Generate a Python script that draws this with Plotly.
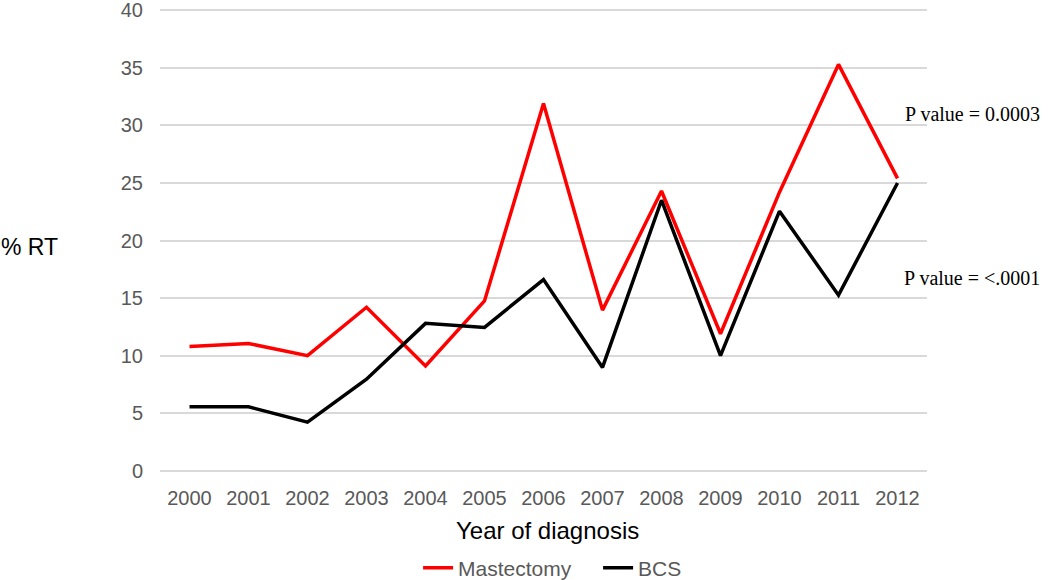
import plotly.graph_objs as go

years = [str(y) for y in range(2000, 2013)]
mastectomy = [10.8, 11.05, 10.0, 14.2, 9.1, 14.75, 31.9, 13.95, 24.3, 11.9, 24.2, 35.3, 25.4]
bcs = [5.55, 5.55, 4.22, 7.95, 12.8, 12.45, 16.6, 8.97, 23.5, 10.0, 22.55, 15.25, 25.0]

tick_font = dict(family="Liberation Sans, Arial", size=20, color="#595959")
title_font = dict(family="Liberation Sans, Arial", size=24, color="black")
serif_font = dict(family="Liberation Serif, Times New Roman", size=20, color="black")

fig = go.Figure(
    data=[
        go.Scatter(x=years, y=mastectomy, mode="lines", name="Mastectomy",
                   line=dict(color="#ff0000", width=3.5)),
        go.Scatter(x=years, y=bcs, mode="lines", name="BCS",
                   line=dict(color="black", width=3.5)),
    ],
    layout=go.Layout(
        width=1050,
        height=580,
        margin=dict(l=160, r=123, t=8, b=107),
        plot_bgcolor="white",
        paper_bgcolor="white",
        xaxis=dict(
            type="category",
            range=[-0.5, 12.5],
            automargin=False,
            showgrid=False,
            showline=False,
            ticks="",
            tickfont=tick_font,
            ticklabelstandoff=11,
        ),
        yaxis=dict(
            # pad the range so plotly keeps the 0 and 40 gridlines
            range=[-0.2, 40.2],
            tickvals=[0, 5, 10, 15, 20, 25, 30, 35, 40],
            automargin=False,
            showgrid=True,
            gridcolor="#d9d9d9",
            gridwidth=1.5,
            zeroline=False,
            showline=False,
            ticks="",
            tickfont=tick_font,
            ticklabelstandoff=16,
            ticklabeloverflow="allow",
        ),
        showlegend=True,
        legend=dict(orientation="h", x=0.3365, xanchor="left", xref="paper",
                    y=0.0207, yanchor="middle", yref="container",
                    entrywidth=135, entrywidthmode="pixels",
                    font=dict(family="Liberation Sans, Arial", size=21, color="#595959")),
        annotations=[
            dict(text="% RT", xref="paper", yref="paper", x=-0.13, y=0.486, xanchor="right",
                 yanchor="middle", showarrow=False, font=dict(family="Liberation Sans, Arial", size=23, color="black")),
            dict(text="Year of diagnosis", xref="paper", yref="paper", x=0.505, y=-0.124,
                 xanchor="center", yanchor="middle", showarrow=False, font=title_font),
            dict(text="P value = 0.0003", xref="paper", yref="paper", x=0.969, y=0.772,
                 xanchor="left", yanchor="middle", showarrow=False, font=serif_font),
            dict(text="P value = <.0001", xref="paper", yref="paper", x=0.967, y=0.419,
                 xanchor="left", yanchor="middle", showarrow=False, font=serif_font),
        ],
    ),
)

fig.write_html("out.html", config={"displayModeBar": False},
               post_script="document.body.style.margin = '0px';")
